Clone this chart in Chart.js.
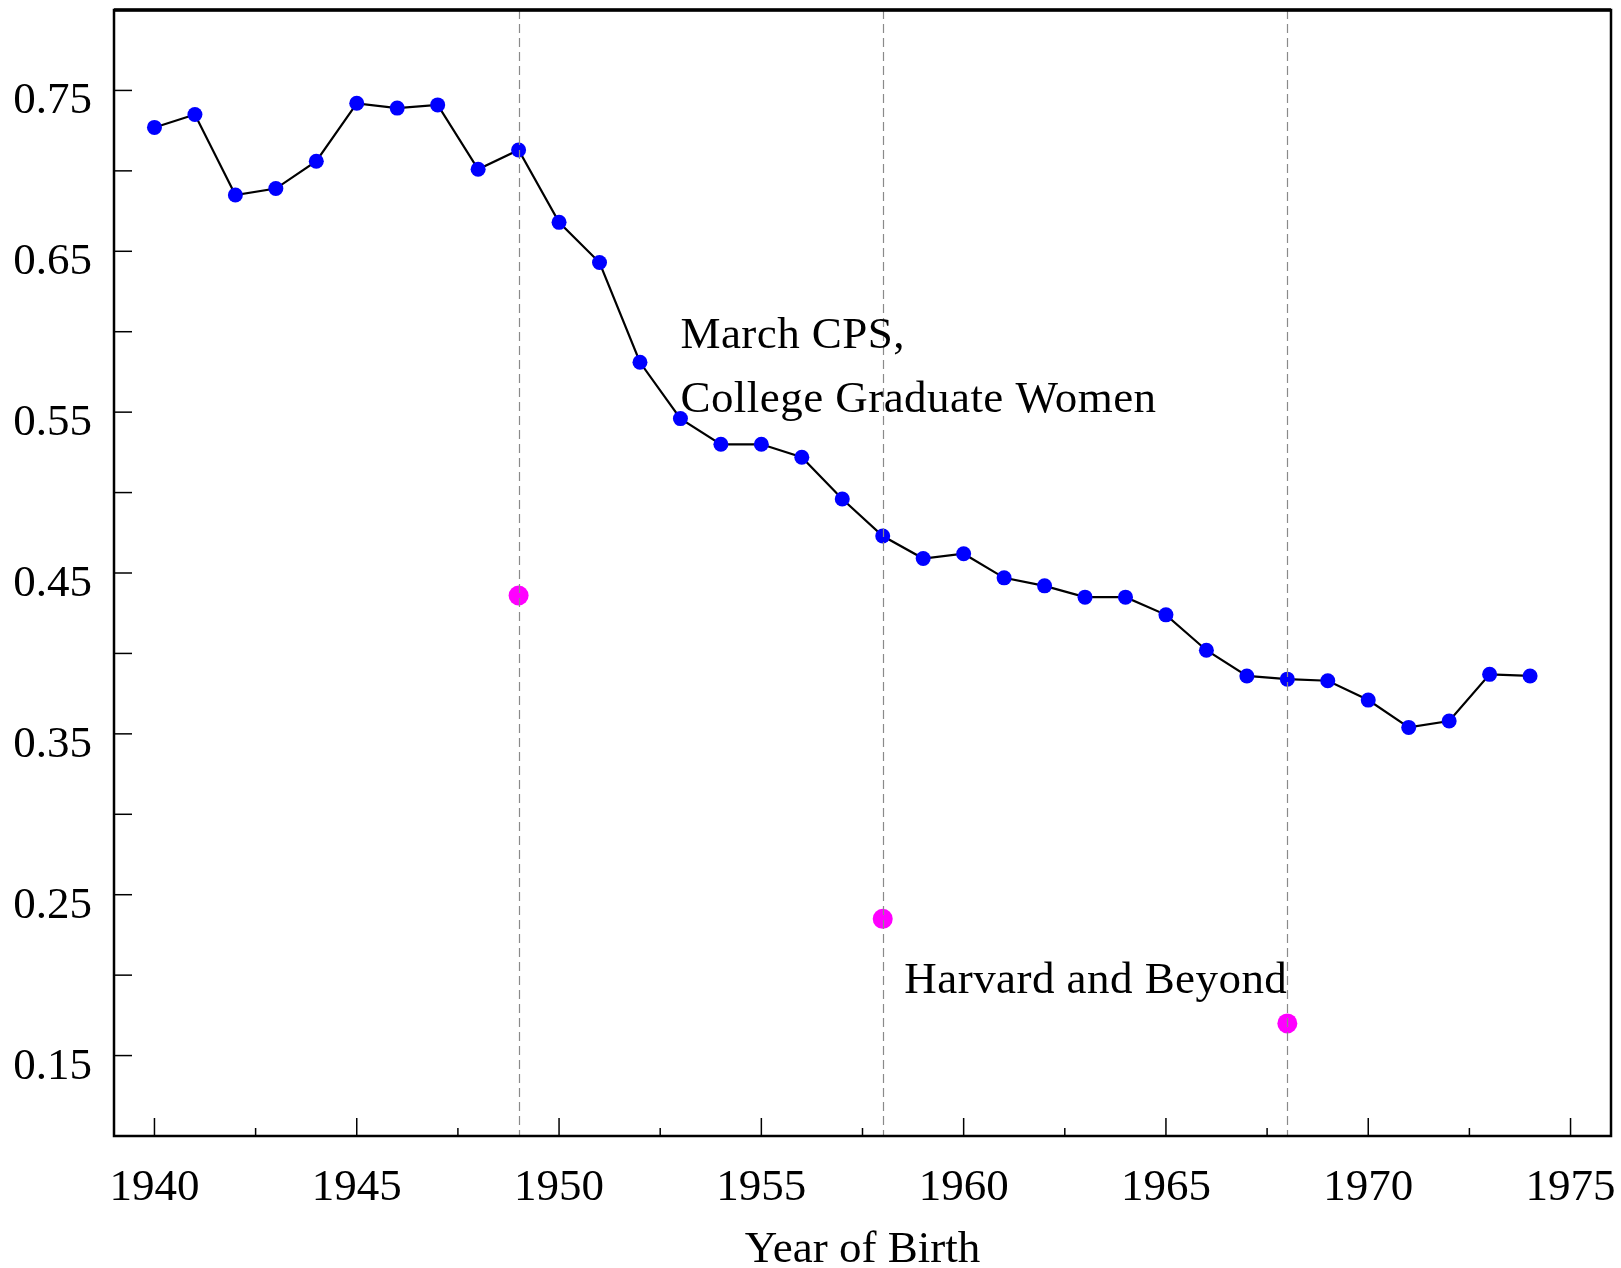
<!DOCTYPE html>
<html>
<head>
<meta charset="utf-8">
<script src="https://cdn.jsdelivr.net/npm/chart.js@4.4.0/dist/chart.umd.min.js"></script>
<style>
  html, body { margin: 0; padding: 0; background: #fff; }
  canvas { display: block; }
</style>
</head>
<body>
<canvas id="myChart" width="1621" height="1268"></canvas>
<script>
// Step 1: data
var birthYears = [1940, 1941, 1942, 1943, 1944, 1945, 1946, 1947, 1948, 1949,
                  1950, 1951, 1952, 1953, 1954, 1955, 1956, 1957, 1958, 1959,
                  1960, 1961, 1962, 1963, 1964, 1965, 1966, 1967, 1968, 1969,
                  1970, 1971, 1972, 1973, 1974];
var cpsShare = [0.727, 0.735, 0.685, 0.689, 0.706, 0.742, 0.739, 0.741, 0.701, 0.713,
                0.668, 0.643, 0.581, 0.546, 0.530, 0.530, 0.522, 0.496, 0.473, 0.459,
                0.462, 0.447, 0.442, 0.435, 0.435, 0.424, 0.402, 0.386, 0.384, 0.383,
                0.371, 0.354, 0.358, 0.387, 0.386];
var hbYears = [1949, 1958, 1968];
var hbShare = [0.436, 0.235, 0.170];

var xTickYears = [1940, 1945, 1950, 1955, 1960, 1965, 1970, 1975];
var xMinorYears = [1942.5, 1947.5, 1952.5, 1957.5, 1962.5, 1967.5, 1972.5];
var yTickValues = [0.15, 0.20, 0.25, 0.30, 0.35, 0.40, 0.45, 0.50, 0.55, 0.60, 0.65, 0.70, 0.75];
var yTickLabels = ['0.15', '0.25', '0.35', '0.45', '0.55', '0.65', '0.75'];

var serif = '"Liberation Serif", "Times New Roman", serif';

// Step 2: frame, inward ticks, dashed year markers and text labels
var decorations = {
    id: 'decorations',
    afterDatasetsDraw: function(chart) {
        var ctx = chart.ctx;
        var a = chart.chartArea;
        var xs = chart.scales.x;
        var ys = chart.scales.y;
        ctx.save();

        // dashed verticals at the Harvard and Beyond cohorts
        ctx.strokeStyle = '#8a8a8a';
        ctx.lineWidth = 1.2;
        ctx.setLineDash([9, 5]);
        hbYears.forEach(function(yr) {
            var px = Math.round(xs.getPixelForValue(yr)) + 0.5;
            ctx.beginPath();
            ctx.moveTo(px, a.top);
            ctx.lineTo(px, a.bottom);
            ctx.stroke();
        });
        ctx.setLineDash([]);

        // ticks pointing into the plot
        ctx.strokeStyle = '#000';
        ctx.lineWidth = 1.5;
        yTickValues.forEach(function(v) {
            var py = ys.getPixelForValue(v);
            ctx.beginPath();
            ctx.moveTo(a.left, py);
            ctx.lineTo(a.left + 18, py);
            ctx.stroke();
        });
        xTickYears.forEach(function(yr) {
            var px = xs.getPixelForValue(yr);
            ctx.beginPath();
            ctx.moveTo(px, a.bottom);
            ctx.lineTo(px, a.bottom - 18);
            ctx.stroke();
        });
        xMinorYears.forEach(function(yr) {
            var px = xs.getPixelForValue(yr);
            ctx.beginPath();
            ctx.moveTo(px, a.bottom);
            ctx.lineTo(px, a.bottom - 8);
            ctx.stroke();
        });

        // frame
        ctx.lineWidth = 2.5;
        ctx.strokeRect(a.left, a.top, a.right - a.left, a.bottom - a.top);
        ctx.lineWidth = 3.5;
        ctx.beginPath();
        ctx.moveTo(a.left, a.top);
        ctx.lineTo(a.right, a.top);
        ctx.stroke();

        // y tick labels
        ctx.fillStyle = '#000';
        ctx.font = '45px ' + serif;
        ctx.textAlign = 'right';
        ctx.textBaseline = 'alphabetic';
        yTickLabels.forEach(function(lab) {
            var py = ys.getPixelForValue(parseFloat(lab));
            ctx.fillText(lab, a.left - 22, py + 23);
        });

        // series labels
        ctx.letterSpacing = '0.45px';
        ctx.textAlign = 'left';
        ctx.fillText('March CPS,', xs.getPixelForValue(1953), ys.getPixelForValue(0.590));
        ctx.fillText('College Graduate Women', xs.getPixelForValue(1953), ys.getPixelForValue(0.550));
        ctx.textAlign = 'right';
        ctx.fillText('Harvard and Beyond', xs.getPixelForValue(1968), ys.getPixelForValue(0.189));

        ctx.restore();
    }
};

// Step 3: build the chart
var canvas = document.getElementById('myChart');
var ctx = canvas.getContext('2d');

var myChart = new Chart(ctx, {
    type: 'line',
    data: {
        datasets: [{
            label: 'March CPS, College Graduate Women',
            data: birthYears.map(function(yr, i) { return { x: yr, y: cpsShare[i] }; }),
            borderColor: '#000',
            borderWidth: 2.2,
            pointRadius: 7.5,
            pointBackgroundColor: '#0000ff',
            pointBorderWidth: 0,
            tension: 0
        }, {
            label: 'Harvard and Beyond',
            data: hbYears.map(function(yr, i) { return { x: yr, y: hbShare[i] }; }),
            showLine: false,
            pointRadius: 10,
            pointBackgroundColor: '#ff00ff',
            pointBorderWidth: 0
        }]
    },
    options: {
        responsive: false,
        animation: false,
        devicePixelRatio: 1,
        layout: { padding: { left: 0, right: 7, top: 8, bottom: 0 } },
        plugins: {
            legend: { display: false },
            tooltip: { enabled: false }
        },
        scales: {
            x: {
                type: 'linear',
                min: 1939,
                max: 1976,
                grid: { display: false, drawTicks: false },
                border: { display: false },
                afterBuildTicks: function(scale) {
                    scale.ticks = xTickYears.map(function(v) { return { value: v }; });
                },
                afterFit: function(scale) {
                    scale.height = 132;
                    scale.paddingLeft = 0;
                    scale.paddingRight = 0;
                },
                ticks: {
                    padding: 25,
                    color: '#000',
                    font: { family: serif, size: 45 },
                    callback: function(v) { return String(v); }
                },
                title: {
                    display: true,
                    text: 'Year of Birth',
                    color: '#000',
                    font: { family: serif, size: 45, lineHeight: 0.6 },
                    padding: { top: 0, bottom: 4 }
                }
            },
            y: {
                type: 'linear',
                min: 0.1,
                max: 0.8,
                grid: { display: false, drawTicks: false },
                border: { display: false },
                ticks: { display: false },
                afterFit: function(scale) {
                    scale.width = 114;
                    scale.paddingTop = 0;
                    scale.paddingBottom = 0;
                }
            }
        }
    },
    plugins: [decorations]
});
</script>
</body>
</html>
